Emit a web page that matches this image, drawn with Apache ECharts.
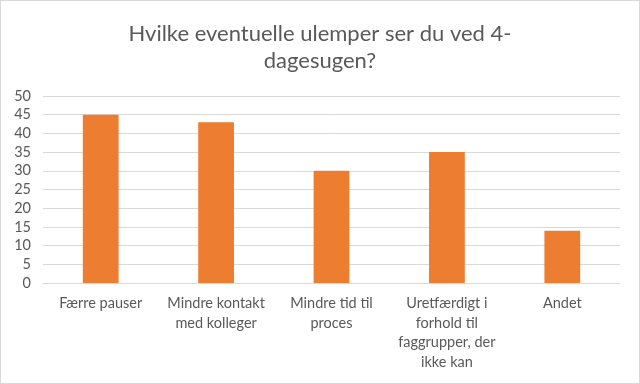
<!DOCTYPE html>
<html><head><meta charset="utf-8">
<script src="https://cdn.jsdelivr.net/npm/echarts@6/dist/echarts.min.js"></script>
<style>html,body{margin:0;padding:0;background:#fff}#c{width:638px;height:382px;border:1px solid #d9d9d9}</style>
</head><body><div id="c"></div>
<script>
const title = "Hvilke eventuelle ulemper ser du ved 4-\ndagesugen?";
const categories = ["Færre pauser", "Mindre kontakt\nmed kolleger", "Mindre tid til\nproces", "Uretfærdigt i\nforhold til\nfaggrupper, der\nikke kan", "Andet"];
const values = [45, 43, 30, 35, 14];
const yTicks = {min: 0, max: 50, interval: 5};

const chart = echarts.init(document.getElementById('c'));
chart.setOption({
  animation: false,
  title: {text: title, left: 'center', top: 14,
    textStyle: {fontFamily: 'Lato', fontSize: 22, fontWeight: 'normal', color: '#595959', lineHeight: 27}},
  grid: {left: 42, right: 19, top: 95, bottom: 100},
  xAxis: {type: 'category', data: categories,
    axisLine: {lineStyle: {color: '#d9d9d9'}}, axisTick: {show: false},
    axisLabel: {fontFamily: 'Lato', fontSize: 14.5, color: '#595959', lineHeight: 19.5, margin: 11, interval: 0}},
  yAxis: {type: 'value', min: yTicks.min, max: yTicks.max, interval: yTicks.interval,
    axisLine: {show: false}, axisTick: {show: false},
    splitLine: {lineStyle: {color: '#d9d9d9'}},
    axisLabel: {fontFamily: 'Lato', fontSize: 14.5, color: '#595959', margin: 12}},
  series: [{type: 'bar', data: values, barWidth: '31%', itemStyle: {color: '#ED7D31'}}]
});
</script></body></html>
